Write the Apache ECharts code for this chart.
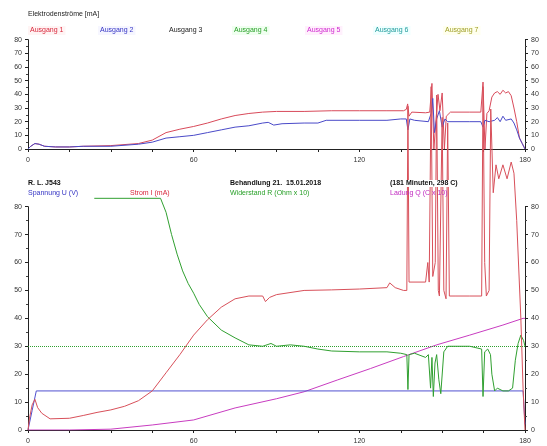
<!DOCTYPE html>
<html><head><meta charset="utf-8">
<script src="https://cdn.jsdelivr.net/npm/echarts/dist/echarts.min.js"></script>
<style>html,body{margin:0;padding:0;background:#fff}#c{width:547px;height:446px}</style>
</head><body><div id="c"></div>
<script>
// ---- Top chart: Elektrodenströme [mA] ----
const topTitle = 'Elektrodenströme [mA]';
const topLegend = ['Ausgang 1','Ausgang 2','Ausgang 3','Ausgang 4','Ausgang 5','Ausgang 6','Ausgang 7'];
const a1 = [[0,0],[1,2],[2.5,4],[4,3.5],[6,2],[10,1.5],[15,1.5],[20,2],[30,2.5],[40,4],[45,6.5],[50,12],[55,14.5],[60,16.5],[65,19],[70,22],[75,24.5],[80,26],[85,27],[90,27.5],[100,27.5],[110,28],[120,28],[130,28],[136,28],[137,29],[137.5,33],[138,24],[139,27],[144,26.5],[145.5,27],[146.3,48],[147,0],[147.8,22],[148.5,40],[149.2,28],[150,41],[150.8,0],[151.5,24],[153,27],[160,27],[164,27],[164.8,49],[165.5,0],[166.2,26],[167,28],[168,38],[169,41],[170,42],[171,40],[172,43],[173,41],[174,42],[175,39],[176,30],[177,20],[178,8],[179,4],[180,0]];
const a2 = [[0,0],[1,2],[2.5,4],[4,3.5],[6,2],[10,1.5],[15,1.5],[20,2],[30,2],[40,3.5],[45,5],[50,8],[55,9],[60,10],[65,12],[70,14],[75,16],[80,17],[85,19],[87,19.5],[89,17.5],[92,18.5],[100,19],[105,19],[108,21],[120,21],[130,21],[135,22],[137,22],[137.6,14],[138.3,22],[140,21],[145,20],[146,26],[146.6,37],[147.2,12],[148,22],[149,28],[150,16],[151,22],[152,20],[160,20],[164,20],[164.8,16],[165.5,21],[167,20],[169,21],[170,23],[171,20],[172,24],[173,21],[175,22],[176,19],[177,14],[178,8],[179,4],[180,0]];

// ---- Bottom chart: treatment ----
const headRow1 = ['R. L. J543','Behandlung 21.  15.01.2018','(181 Minuten, 298 C)'];
const headRow2 = ['Spannung U (V)','Strom I (mA)','Widerstand R (Ohm x 10)','Ladung Q (C x 10)'];
const spannungU = [[0,0],[1.5,7],[3,14],[179.3,14],[180,2]];
const stromI = [[0,0],[0.5,4],[1.5,9],[2.5,11],[3.5,8],[5,6],[8,4],[15,4.2],[20,5.2],[25,6.3],[30,7.2],[35,8.5],[40,10.5],[45,14],[50,20.5],[55,27],[60,34],[65,39.5],[70,44],[75,47],[80,48],[85,48],[86,46],[87.5,47.5],[90,48.5],[100,50],[110,50.2],[120,50.5],[130,51],[131,52.7],[133,51],[136,50],[137.2,50],[137.6,116],[138,53],[144,53],[144.8,60],[145.3,53],[146,123],[146.6,55],[147.5,60],[148,120],[148.6,50],[149,48],[150,112],[150.6,50],[151.4,47],[152,110],[152.6,48],[155,48],[160,48],[164.3,48],[164.8,123],[165.4,60],[166,48],[167,50],[167.6,115],[168.5,85],[169.5,95],[170.5,90],[172,95],[173.5,90],[175,96],[176,92],[177,75],[178.5,40],[179.3,15],[180,0]];
const widerstandR = [[24,83],[48,83],[50,78],[52,70],[54,63],[56,57],[58,52.5],[60,49],[62,45],[65,40.6],[70,35.8],[75,33],[80,30.5],[85,30],[88,31],[90,30],[95,30.5],[100,30],[105,29],[110,28.3],[120,28],[130,28],[135,27.5],[137.2,27],[137.6,14.5],[138,27],[140,27.5],[144,26],[145,27],[145.8,15],[146.3,26],[146.8,12],[147.4,24],[148,27],[148.8,18],[149.5,13],[150,12.5],[150.6,28],[152,30],[155,30],[160,30],[164.3,29],[164.8,12],[165.4,28],[166.5,29],[167.5,27],[168,20],[169,14],[170,15],[172,14],[174,14],[175.5,15],[176.5,25],[177.5,31],[178.5,34],[179.5,32],[180,30]];
const ladungQ = [[0,0],[15,0],[30,0.3],[45,1.8],[60,3.6],[75,7.9],[90,11.2],[100,13.7],[112,17.9],[124,22],[136,26.3],[148,30.5],[160,34],[172,37.6],[179.3,40],[180,40]];
const refLine = [30];

const xTickLabels = [0,60,120,180];

const FONT = '"Liberation Sans", Arial, sans-serif';
const legendColors = ['#d8283c','#3434c4','#222222','#28a028','#d028d0','#209c9c','#a0a028'];
const legendBg = ['#fff4f4','#f6f6ff','#ffffff','#f0fff0','#fff0fc','#f0ffff','#ffffee'];
const legendX = [28,98,167,232,305,373,443];
const head2Colors = ['#3434c4','#d8283c','#28a028','#c028c0'];
const head1X = [28,230,390];
const head2X = [28,130,230,390];

function xAxisOf(gi){
  return {gridIndex:gi,type:'value',min:0,max:180,interval:15,
    axisLine:{onZero:false,lineStyle:{color:'#222',width:1}},
    axisTick:{length:3,lineStyle:{color:'#222'}},
    splitLine:{show:false},
    axisLabel:{fontSize:7,color:'#333',fontFamily:FONT,margin:8,
      formatter:v=>xTickLabels.indexOf(v)>=0?String(v):''}};
}
function yAxisOf(gi,pos){
  return {gridIndex:gi,type:'value',min:0,max:80,interval:10,position:pos,
    axisLine:{show:true,lineStyle:{color:'#222',width:1}},
    axisTick:{show:true,length:3,lineStyle:{color:'#222'}},
    minorTick:{show:true,splitNumber:2,length:2,lineStyle:{color:'#444'}},
    splitLine:{show:false},
    axisLabel:{fontSize:7,color:'#333',fontFamily:FONT,margin:6}};
}
function line(name,data,color,xi,yi,extra){
  return Object.assign({name,type:'line',data,xAxisIndex:xi,yAxisIndex:yi,
    symbol:'none',lineStyle:{color,width:1},itemStyle:{color},animation:false},extra||{});
}

const graphics = [];
graphics.push({type:'text',left:28,top:11,z:100,style:{text:topTitle,fill:'#222',font:'7px '+FONT}});
topLegend.forEach((t,i)=>graphics.push({type:'text',left:legendX[i],top:26,z:100,
  style:{text:t,fill:legendColors[i],font:'7px '+FONT,backgroundColor:legendBg[i],padding:[1,2]}}));
headRow1.forEach((t,i)=>graphics.push({type:'text',left:head1X[i],top:180,z:100,
  style:{text:t,fill:'#111',font:'bold 7px '+FONT,backgroundColor:'#fff'}}));
headRow2.forEach((t,i)=>graphics.push({type:'text',left:head2X[i],top:190,z:100,
  style:{text:t,fill:head2Colors[i],font:'7px '+FONT}}));

const option = {
  backgroundColor:'#fff',
  animation:false,
  grid:[{left:28,right:22,top:39.7,height:109.3},{left:28,right:22,top:206.7,height:223.3}],
  xAxis:[xAxisOf(0),xAxisOf(1)],
  yAxis:[yAxisOf(0,'left'),yAxisOf(0,'right'),yAxisOf(1,'left'),yAxisOf(1,'right')],
  series:[
    line(topLegend[0],a1,'#d84a5a',0,0),
    line(topLegend[1],a2,'#4a4ac8',0,0),
    line(headRow2[3],ladungQ,'#c83cc0',1,2),
    line(headRow2[0],spannungU,'#5050d0',1,2),
    line(headRow2[2],widerstandR,'#30a030',1,2,{clip:false,
      markLine:{silent:true,symbol:'none',label:{show:false},
        lineStyle:{type:'dotted',color:'#30a030',width:1},data:[{yAxis:refLine[0]}]}}),
    line(headRow2[1],stromI,'#d8505a',1,2,{clip:false})
  ],
  graphic:graphics
};
const chart = echarts.init(document.getElementById('c'),null,{renderer:'canvas'});
chart.setOption(option);
</script></body></html>
